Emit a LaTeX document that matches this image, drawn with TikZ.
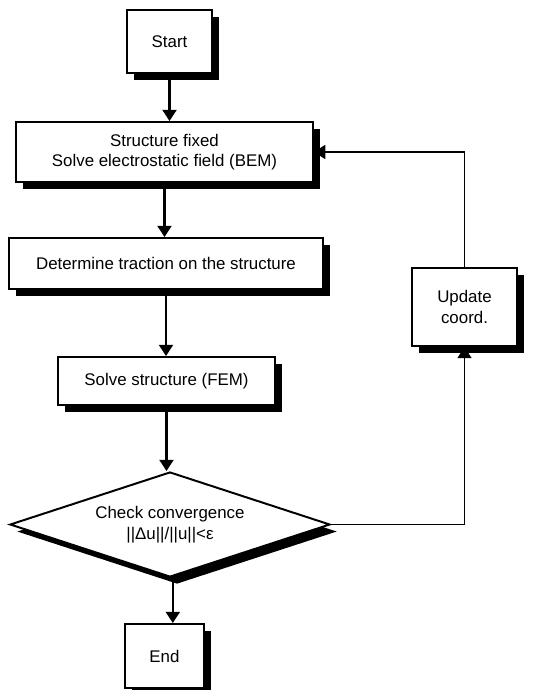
\documentclass[tikz,border=0pt]{standalone}
\usepackage{fontspec}
\setmainfont{Liberation Sans}
\usetikzlibrary{arrows.meta,positioning,shapes.geometric,shadows}

\begin{document}
\begin{tikzpicture}[x=0.025cm,y=-0.025cm,
    procbox/.style={draw,line width=1.4pt,fill=white,align=center,inner sep=2pt,
      font=\fontsize{12pt}{14.5pt}\selectfont,
      drop shadow={shadow xshift=5pt,shadow yshift=-5pt,opacity=1,fill=black}},
    decision/.style={procbox,diamond,aspect=3,inner sep=0pt},
    flowarrow/.style={line width=1.6pt,-{Triangle[width=10pt,length=8pt]}},
    backarrow/.style={line width=1.1pt,-{Triangle[width=10pt,length=8pt]}}]
  \useasboundingbox (0,0) rectangle (535,690);

  % Main column
  \node[procbox,minimum width=2.125cm,minimum height=1.575cm] (start) at (169.5,41.5) {Start};
  \node[procbox,minimum width=7.425cm,minimum height=1.5cm] (fixed) at (164.5,152)
    {Structure fixed\\ Solve electrostatic field (BEM)};
  \node[procbox,minimum width=7.85cm,minimum height=1.275cm] (traction) at (166,263.5)
    {Determine traction on the structure};
  \node[procbox,minimum width=5.425cm,minimum height=1.2cm] (fem) at (166.5,381)
    {Solve structure (FEM)};
  \node[decision,minimum width=8cm,minimum height=2.625cm] (check) at (170,524.5)
    {Check convergence\\ ||Δu||/||u||<ε};
  \node[procbox,minimum width=1.975cm,minimum height=1.6cm] (end) at (164.5,656) {End};

  % Feedback box
  \node[procbox,minimum width=2.625cm,minimum height=1.95cm] (update) at (464.5,307)
    {Update\\ coord.};

  % Connectors
  \draw[flowarrow] (start.south) -- (start.south |- fixed.north);
  \draw[flowarrow] (fixed.south) -- (fixed.south |- traction.north);
  \draw[flowarrow] (traction.south) -- (traction.south |- fem.north);
  \draw[flowarrow] (fem.south) -- (fem.south |- check.north);
  \draw[flowarrow] ([xshift=2pt]check.south) -- ([xshift=2pt]check.south |- end.north);

  % Loop back
  \draw[backarrow] (check.east) -| (update.south);
  \draw[backarrow] (update.north) |- (fixed.east);
\end{tikzpicture}
\end{document}
